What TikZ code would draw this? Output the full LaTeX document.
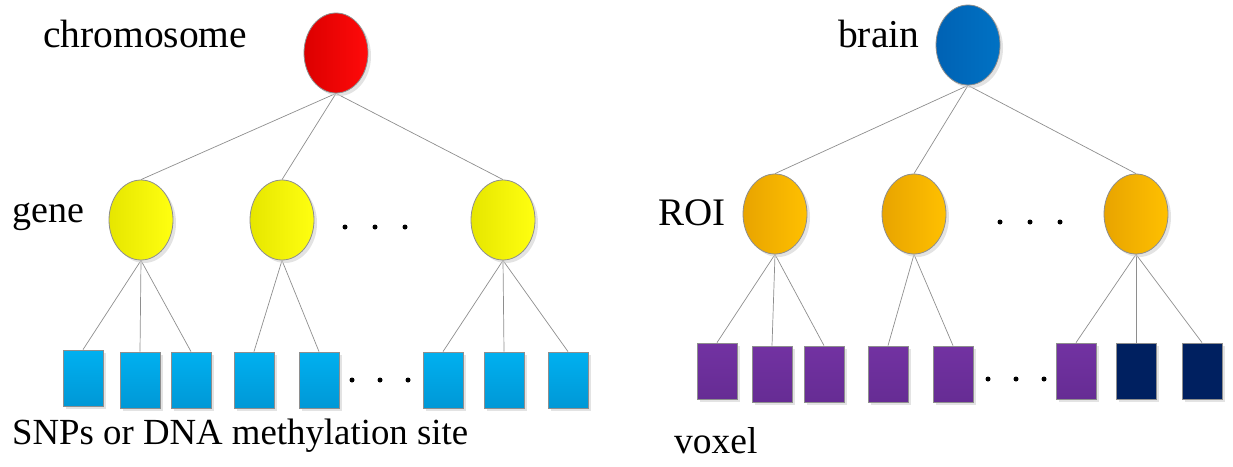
\documentclass[tikz,border=0pt]{standalone}
\usepackage{fontspec}
\setmainfont{Liberation Serif}
\usetikzlibrary{shapes.geometric,shadows,backgrounds}

\definecolor{redL}{HTML}{DC0000}
\definecolor{redR}{HTML}{FF0A0A}
\definecolor{yelL}{HTML}{E6E600}
\definecolor{yelR}{HTML}{FFFF10}
\definecolor{orgL}{HTML}{E8A400}
\definecolor{orgR}{HTML}{FFC000}
\definecolor{bluL}{HTML}{0062B4}
\definecolor{bluR}{HTML}{0072C4}
\definecolor{cyaT}{HTML}{00B0F0}
\definecolor{cyaB}{HTML}{0098D6}
\definecolor{purT}{HTML}{7232A2}
\definecolor{purB}{HTML}{662C94}
\definecolor{navy}{HTML}{002060}
\definecolor{edge}{HTML}{8E8E8E}

\tikzset{
  soft/.style={drop shadow={shadow xshift=3pt,shadow yshift=-3pt,fill=black!18,opacity=0.6}},
  oval/.style={ellipse,draw=edge,line width=0.8pt,minimum width=64pt,minimum height=80pt,inner sep=0pt,soft},
  chrom/.style={oval,left color=redL,right color=redR},
  brainnode/.style={oval,left color=bluL,right color=bluR},
  genenode/.style={oval,left color=yelL,right color=yelR},
  roinode/.style={oval,left color=orgL,right color=orgR},
  leaf/.style={rectangle,draw=edge,line width=0.8pt,minimum width=40pt,minimum height=56pt,inner sep=0pt,soft},
  snp/.style={leaf,top color=cyaT,bottom color=cyaB},
  vox/.style={leaf,top color=purT,bottom color=purB},
  voxdark/.style={leaf,fill=navy},
  link/.style={draw=edge,line width=0.7pt},
  lbl/.style={font=\fontsize{#1}{#1}\selectfont,inner sep=0pt,anchor=base west},
  lbl/.default=38,
  dot/.style={circle,fill=black,inner sep=0pt,minimum size=5pt}
}

\begin{document}
\begin{tikzpicture}[x=1pt,y=-1pt]
\useasboundingbox (0,0) rectangle (1233,466);

% ---- genetic hierarchy ----
\node[chrom] (chr) at (336,53) {};
\node[genenode] (g1) at (141,220) {};
\node[genenode] (g2) at (282,220) {};
\node[genenode] (g3) at (503,220) {};

\node[snp] (s1) at (83,378) {};
\node[snp] (s2) at (140,380) {};
\node[snp] (s3) at (191,380) {};
\node[snp] (s4) at (254,380) {};
\node[snp] (s5) at (319,380) {};
\node[snp] (s6) at (443,380) {};
\node[snp] (s7) at (504,380) {};
\node[snp] (s8) at (568,380) {};

\node[lbl=39.5] (tchr) at (43,47) {chromosome};
\node[lbl=38] (tgene) at (12,222) {gene};
\node[lbl=36.8] (tsnp) at (12,444) {SNPs or DNA methylation site};

\foreach \x in {345,375,405} \node[dot] at (\x,227) {};
\foreach \x in {352,380,408} \node[dot] at (\x,380) {};

% ---- brain hierarchy ----
\node[brainnode] (br) at (968,45) {};
\node[roinode] (r1) at (775,214) {};
\node[roinode] (r2) at (914,214) {};
\node[roinode] (r3) at (1136,214) {};

\node[vox] (v1) at (717,371) {};
\node[vox] (v2) at (772,374) {};
\node[vox] (v3) at (824,374) {};
\node[vox] (v4) at (888,374) {};
\node[vox] (v5) at (953,374) {};
\node[vox] (v6) at (1076,371) {};
\node[voxdark] (v7) at (1136,371) {};
\node[voxdark] (v8) at (1202,371) {};

\node[lbl=39.5] (tbrain) at (838,47) {brain};
\node[lbl=39] (troi) at (658,225) {ROI};
\node[lbl=37.5] (tvox) at (674,453) {voxel};

\foreach \x in {1000,1030,1060} \node[dot] at (\x,222) {};
\foreach \x in {988,1016,1044} \node[dot] at (\x,379) {};

% ---- connectors ----
\begin{scope}[on background layer]
  \foreach \c in {g1,g2,g3} \draw[link] (chr.south) -- (\c.north);
  \foreach \c in {s1,s2,s3} \draw[link] (g1.south) -- (\c.north);
  \foreach \c in {s4,s5} \draw[link] (g2.south) -- (\c.north);
  \foreach \c in {s6,s7,s8} \draw[link] (g3.south) -- (\c.north);
  \foreach \c in {r1,r2,r3} \draw[link] (br.south) -- (\c.north);
  \foreach \c in {v1,v2,v3} \draw[link] (r1.south) -- (\c.north);
  \foreach \c in {v4,v5} \draw[link] (r2.south) -- (\c.north);
  \foreach \c in {v6,v7,v8} \draw[link] (r3.south) -- (\c.north);
\end{scope}
\end{tikzpicture}
\end{document}
